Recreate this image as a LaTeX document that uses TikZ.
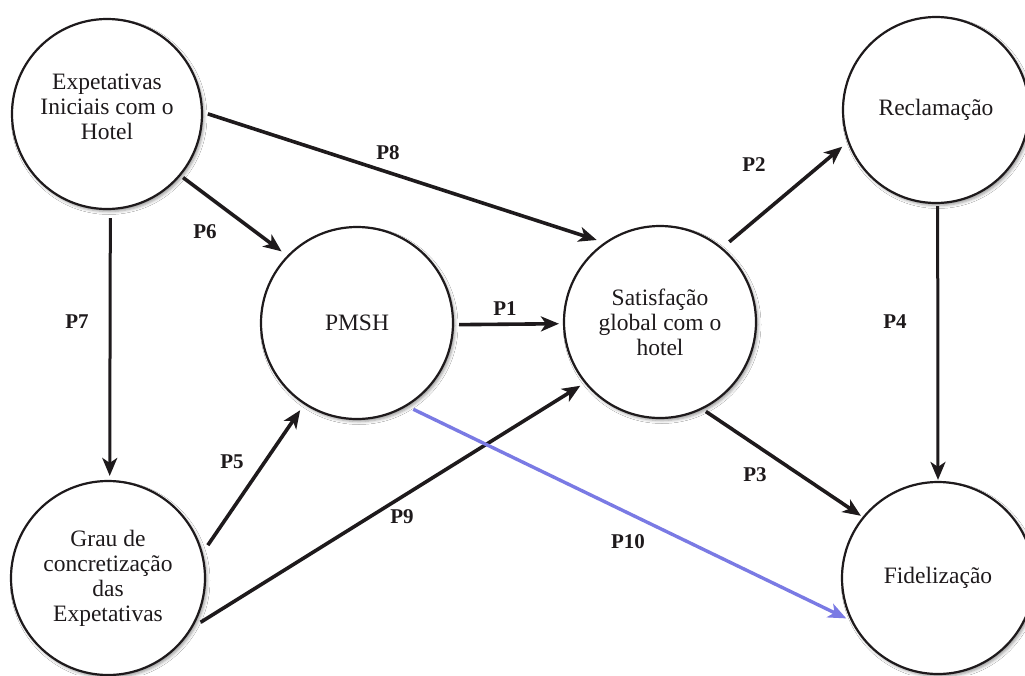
\documentclass[tikz,border=0pt]{standalone}
\usepackage{fontspec}
\setmainfont{Liberation Serif}
\usetikzlibrary{arrows.meta,shadows.blur}
\definecolor{inkdark}{RGB}{30,26,28}
\definecolor{pathblue}{RGB}{122,122,228}
\begin{document}
\begin{tikzpicture}[x=1pt,y=-1pt,
  construct/.style={circle, draw=inkdark, line width=2.2pt, fill=white,
    inner sep=0pt, align=center, text=inkdark,
    font=\fontsize{23.5}{25}\selectfont,
    blur shadow={shadow xshift=2pt, shadow yshift=-2.5pt,
      shadow blur radius=3pt, shadow opacity=40}},
  nodetext/.style={align=center, text=inkdark, inner sep=0pt,
    font=\fontsize{23.5}{25}\selectfont},
  tip/.style={-{Stealth[length=18pt,width=15pt,inset=5pt]}},
  link/.style={draw=inkdark, line width=3.6pt, tip},
  thinlink/.style={draw=inkdark, line width=3pt, tip},
  bluelink/.style={draw=pathblue, line width=3.4pt, tip},
  plabel/.style={font=\fontsize{21}{23}\bfseries\selectfont, text=inkdark}
]
\useasboundingbox[fill=white] (0,0) rectangle (1025,675);

% constructs of the model
\node[construct, minimum size=190pt] (exp) at (107,114) {};
\node[nodetext] (exptext) at (107,107) {Expetativas\\Iniciais com o\\Hotel};
\node[construct, minimum size=186pt] (rec) at (936,110) {Reclamação};
\node[construct, minimum size=192pt] (pmsh) at (357,323) {PMSH};
\node[construct, minimum size=192pt] (sat) at (660,322) {Satisfação\\global com o\\hotel};
\node[construct, minimum size=194pt] (grau) at (108,578) {Grau de\\concretização\\das\\Expetativas};
\node[construct, minimum size=192pt] (fid) at (938,578) {Fidelização};

% hypotheses
\draw[link, shorten <=5pt, shorten >=8pt] (exp.1) -- (sat.125);
\draw[link, shorten <=3pt, shorten >=7pt] (exp.-40) -- (pmsh.136);
\draw[thinlink, shorten <=8pt, shorten >=4pt] (exp.-88) -- (grau.89);
\draw[link, shorten <=9pt, shorten >=7pt] (grau.15) -- (pmsh.-123);
\draw[link, shorten <=9pt, shorten >=5pt] (grau.-30) -- (sat.-141);
\draw[link, shorten <=5pt, shorten >=4pt] (pmsh.-1) -- (sat.181);
\draw[link, shorten <=9pt, shorten >=7pt] (sat.50) -- (rec.-160);
\draw[link, shorten <=4pt, shorten >=2pt] (sat.-64) -- (fid.141);
\draw[thinlink, shorten <=2pt, shorten >=1pt] (rec.-89) -- (fid.90);
\draw[bluelink, shorten <=7pt, shorten >=5pt] (pmsh.-59) -- (fid.-154);

% hypothesis labels
\node[plabel] (l8) at (388,153) {P8};
\node[plabel] (l6) at (205,232) {P6};
\node[plabel] (l7) at (77,322) {P7};
\node[plabel] (l5) at (232,462) {P5};
\node[plabel] (l9) at (402,517) {P9};
\node[plabel] (l1) at (505,309) {P1};
\node[plabel] (l2) at (754,165) {P2};
\node[plabel] (l3) at (755,475) {P3};
\node[plabel] (l4) at (895,322) {P4};
\node[plabel] (l10) at (628,542) {P10};
\end{tikzpicture}
\end{document}
